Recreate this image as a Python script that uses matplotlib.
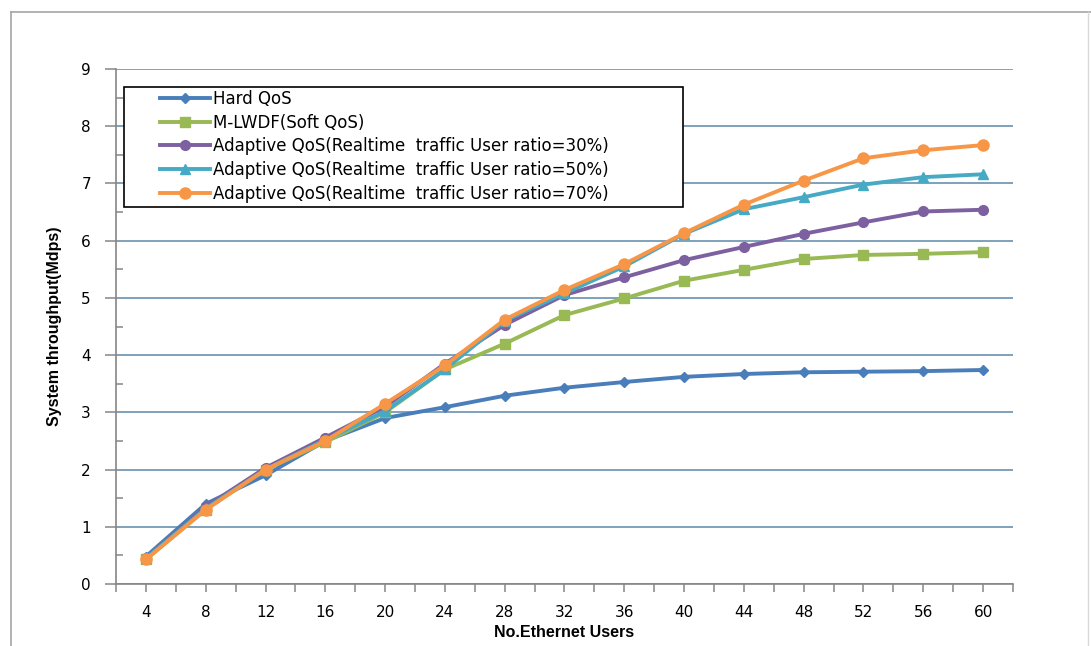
import numpy as np
import matplotlib.pyplot as plt
from matplotlib.lines import Line2D
from matplotlib.patches import Rectangle

# Data
users = [4, 8, 12, 16, 20, 24, 28, 32, 36, 40, 44, 48, 52, 56, 60]
hard_qos = [0.48, 1.40, 1.90, 2.50, 2.90, 3.09, 3.29, 3.43, 3.53, 3.62, 3.67, 3.70, 3.71, 3.72, 3.74]
mlwdf = [0.43, 1.30, 2.00, 2.48, 3.00, 3.75, 4.20, 4.70, 4.99, 5.30, 5.49, 5.68, 5.75, 5.77, 5.80]
adaptive_30 = [0.45, 1.35, 2.03, 2.56, 3.10, 3.85, 4.53, 5.05, 5.36, 5.66, 5.89, 6.12, 6.32, 6.51, 6.54]
adaptive_50 = [0.45, 1.32, 2.00, 2.52, 3.02, 3.75, 4.60, 5.08, 5.55, 6.12, 6.55, 6.76, 6.98, 7.11, 7.16]
adaptive_70 = [0.43, 1.30, 2.00, 2.50, 3.15, 3.82, 4.62, 5.14, 5.59, 6.13, 6.63, 7.05, 7.44, 7.58, 7.67]

labels = ["Hard QoS",
          "M-LWDF(Soft QoS)",
          "Adaptive QoS(Realtime  traffic User ratio=30%)",
          "Adaptive QoS(Realtime  traffic User ratio=50%)",
          "Adaptive QoS(Realtime  traffic User ratio=70%)"]
colors = ["#4A7EBB", "#98B954", "#7D60A0", "#46AAC5", "#F79646"]
markers = ["D", "s", "o", "^", "o"]
msizes = [5, 7, 7, 7, 8]

series = [hard_qos, mlwdf, adaptive_30, adaptive_50, adaptive_70]

W, H = 1091, 646
fig = plt.figure(figsize=(W / 100, H / 100), dpi=100)
ax = fig.add_axes([116 / W, 1 - 584 / H, (1013 - 116) / W, (584 - 69) / H])

x = np.arange(len(users))
for y, lab, c, m, ms in zip(series, labels, colors, markers, msizes):
    ax.plot(x, y, color=c, lw=2.8, marker=m, markersize=ms, label=lab,
            markeredgecolor=c, zorder=3)

# Axes styling (Excel 2007 look)
ax.set_xlim(-0.5, len(users) - 0.5)
ax.set_ylim(0, 9)
ax.set_yticks(range(0, 10))
ax.set_yticks(np.arange(0.5, 9, 1.0), minor=True)
ax.grid(axis="y", which="major", color="#5B87A8", lw=1.1)
ax.set_axisbelow(True)

ax.set_xticks(x)
ax.set_xticklabels([str(u) for u in users])
ax.set_xticks(np.arange(-0.5, len(users), 1.0), minor=True)

for side in ["top", "right"]:
    ax.spines[side].set_visible(False)
for side in ["left", "bottom"]:
    ax.spines[side].set_color("#868686")
    ax.spines[side].set_linewidth(1.2)

ax.tick_params(axis="y", which="major", direction="out", length=8, width=1.1,
               color="#868686", labelsize=11, pad=10)
ax.tick_params(axis="y", which="minor", direction="in", length=5, width=1.1, color="#868686")
ax.tick_params(axis="x", which="both", direction="out", length=6, width=1.1,
               color="#868686", labelsize=11, pad=9)

ax.set_xlabel("No.Ethernet Users", fontsize=11.5, fontweight="bold",
              family="Liberation Sans", labelpad=4)
ax.set_ylabel("System throughput(Mdps)", fontsize=11.5, fontweight="bold",
              family="Liberation Sans", labelpad=14)

# Legend: frameless entries inside a separately drawn box
box = Rectangle((124 / W, 1 - 207 / H), (683 - 124) / W, (207 - 87) / H,
                transform=fig.transFigure, facecolor="white",
                edgecolor="black", lw=1.2, zorder=4.5, clip_on=False)
ax.add_patch(box)
handles = [Line2D([], [], color=c, lw=2.8, marker=m, markersize=ms, markeredgecolor=c)
           for c, m, ms in zip(colors, markers, msizes)]
leg = ax.legend(handles, labels, loc="upper left",
                bbox_to_anchor=(160 / W, 1 - 90 / H), bbox_transform=fig.transFigure,
                fontsize=12, frameon=False, borderpad=0, borderaxespad=0,
                labelspacing=0.34, handlelength=3.0, handletextpad=0.2)
leg.set_zorder(6)

# Outer chart-area border
fig.add_artist(Line2D([11 / W, 11 / W], [0, 1 - 12 / H], color="#A6A6A6", lw=1.2))
fig.add_artist(Line2D([11 / W, 1], [1 - 12 / H, 1 - 12 / H], color="#A6A6A6", lw=1.2))
fig.add_artist(Line2D([1088 / W, 1088 / W], [0, 1 - 12 / H], color="#D9D9D9", lw=1.0))

fig.savefig("out.png", dpi=100)
